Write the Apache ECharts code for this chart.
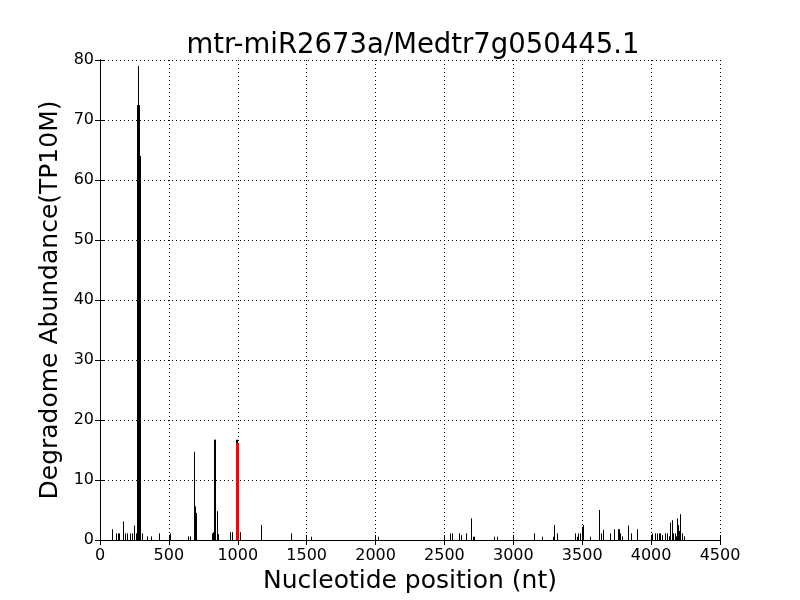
<!DOCTYPE html>
<html>
<head>
<meta charset="utf-8">
<script src="https://cdn.jsdelivr.net/npm/echarts@6/dist/echarts.min.js"></script>
<style>html,body{margin:0;padding:0;background:#fff}#c{width:800px;height:600px}</style>
</head>
<body>
<div id="c"></div>
<script>
const titleText = 'mtr-miR2673a/Medtr7g050445.1';
const xLabel = 'Nucleotide position (nt)';
const yLabel = 'Degradome Abundance(TP10M)';
const xTicks = [0, 500, 1000, 1500, 2000, 2500, 3000, 3500, 4000, 4500];
const yTicks = [0, 10, 20, 30, 40, 50, 60, 70, 80];

// degradome read positions (nt) and abundances (TP10M)
const positions = [
  90, 114, 128, 140, 165, 181, 198, 218, 229, 249, 258,
  272, 276, 283, 290, 302, 339, 367, 430, 505, 637, 650,
  682, 686, 690, 695, 813, 818, 822, 826, 830, 834, 838, 846, 852, 858,
  944, 955, 988, 992, 997, 1016, 1171, 1389, 1531, 2020,
  2540, 2552, 2608, 2622, 2659, 2695, 2705, 2715, 2857, 2883,
  3152, 3205, 3285, 3295, 3319, 3450, 3460, 3470, 3484, 3497, 3503, 3559,
  3624, 3633, 3653, 3704, 3733, 3760, 3768, 3775, 3790, 3834, 3851, 3897,
  4003, 4028, 4040, 4055, 4066, 4079, 4104, 4118, 4130, 4137, 4149, 4160,
  4170, 4178, 4188, 4198, 4204, 4212, 4222, 4240
];
const abundances = [
  1.8, 1.1, 1.1, 1.1, 3.1, 1.1, 1.1, 1.1, 1.1, 2.4, 1.1,
  72.5, 79, 72.5, 64, 1.1, 0.6, 0.6, 1.1, 1.1, 0.6, 0.6,
  14.7, 5.6, 5.0, 4.5, 1.1, 1.1, 1.3, 16.7, 16.7, 16.7, 16.7, 4.8, 2.0, 1.0,
  1.3, 1.3, 16.7, 16.7, 16.7, 1.3, 2.5, 1.1, 0.55, 0.55,
  1.1, 1.1, 1.1, 0.8, 1.1, 3.6, 0.55, 0.55, 0.55, 0.55,
  1.1, 0.55, 0.55, 2.5, 1.1, 1.1, 0.55, 1.1, 1.1, 2.2, 2.5, 0.55,
  5.0, 1.1, 1.7, 1.1, 1.8, 1.8, 1.8, 1.1, 0.6, 2.4, 1.1, 1.8,
  1.1, 1.1, 1.1, 1.1, 1.1, 0.8, 1.1, 1.1, 0.6, 2.9, 3.3, 1.1,
  1.1, 0.6, 3.6, 2.5, 1.5, 4.3, 1.1, 0.6
];
// miRNA cleavage site (red)
const sitePositions = [993];
const siteAbundances = [16.2];

const chart = echarts.init(document.getElementById('c'), null, {renderer: 'canvas'});
const FONT = 'DejaVu Sans';

function makeRender(color, width) {
  return function (params, api) {
    const x = api.value(0), y = api.value(1);
    const p0 = api.coord([x, 0]);
    const p1 = api.coord([x, y]);
    const px = width % 2 === 1 ? Math.round(p0[0]) + 0.5 : Math.round(p0[0]);
    return {
      type: 'line',
      shape: {x1: px, y1: p0[1], x2: px, y2: p1[1]},
      style: {stroke: color, lineWidth: width}
    };
  };
}

const axisCommon = {
  type: 'value',
  axisLine: {show: true, lineStyle: {color: '#000', width: 1}},
  axisTick: {show: true, inside: true, length: 5, lineStyle: {color: '#000'}},
  splitLine: {show: false}
};

chart.setOption({
  animation: false,
  backgroundColor: '#fff',
  title: {
    text: titleText,
    left: 408, top: 27, textAlign: 'center',
    textStyle: {fontFamily: FONT, fontSize: 27.5, fontWeight: 'normal', color: '#000'}
  },
  grid: {left: 100, right: 80, top: 60, bottom: 60, containLabel: false},
  xAxis: [
    Object.assign({}, axisCommon, {
      min: xTicks[0], max: xTicks[xTicks.length - 1], interval: 500,
      position: 'bottom',
      name: xLabel, nameLocation: 'middle', nameGap: 28,
      nameTextStyle: {fontFamily: FONT, fontSize: 25, color: '#000'},
      axisLabel: {show: true, margin: 8, fontFamily: FONT, fontSize: 16, color: '#000',
        formatter: v => String(v)},
      splitLine: {show: true, lineStyle: {color: '#000', width: 1, type: [1, 3]}}
    }),
    Object.assign({}, axisCommon, {
      min: xTicks[0], max: xTicks[xTicks.length - 1], interval: 500,
      position: 'top', axisLabel: {show: false}
    })
  ],
  yAxis: [
    Object.assign({}, axisCommon, {
      min: yTicks[0], max: yTicks[yTicks.length - 1], interval: 10,
      position: 'left',
      name: yLabel, nameLocation: 'middle', nameGap: 32,
      nameTextStyle: {fontFamily: FONT, fontSize: 25, color: '#000'},
      axisLabel: {show: true, margin: 6, fontFamily: FONT, fontSize: 16, color: '#000',
        formatter: v => String(v)},
      splitLine: {show: true, lineStyle: {color: '#000', width: 1, type: [1, 3]}}
    }),
    Object.assign({}, axisCommon, {
      min: yTicks[0], max: yTicks[yTicks.length - 1], interval: 10,
      position: 'right', axisLabel: {show: false}
    })
  ],
  series: [
    {
      type: 'custom', xAxisIndex: 0, yAxisIndex: 0,
      renderItem: makeRender('#000', 1),
      data: positions.map((p, i) => [p, abundances[i]]),
      z: 3
    },
    {
      type: 'custom', xAxisIndex: 0, yAxisIndex: 0,
      renderItem: makeRender('#ff0000', 3),
      data: sitePositions.map((p, i) => [p, siteAbundances[i]]),
      z: 4
    }
  ]
});
</script>
</body>
</html>
